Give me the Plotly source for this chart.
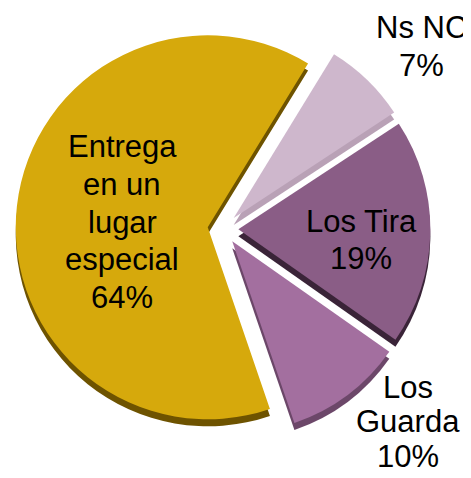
import plotly.graph_objects as go

# ---- data ----
labels = ["Ns NC", "Los Tira", "Los Guarda", "Entrega en un lugar especial"]
values = [7, 19, 10, 64]
text_lines = [["Ns NC", "7%"], ["Los Tira", "19%"], ["Los", "Guarda", "10%"],
              ["Entrega", "en un", "lugar", "especial", "64%"]]

colors = ["#CEB7CC", "#8A5D86", "#A36F9F", "#D6A90C"]
side_colors = ["#B9A1B6", "#3A2438", "#6C4769", "#6E5300"]

# the page body has an 8px margin, so the figure is drawn offset by 8px
OFF = 8
W, H = 471 - OFF, 478 - OFF
cx, cy, R, pull = 223 - OFF, 229 - OFF, 192, 0.08
half = R * (1 + pull)
shadow_dy = 7


def dom(dy=0):
    return dict(x=[(cx - half) / W, (cx + half) / W],
                y=[1 - (cy + half + dy) / H, 1 - (cy - half + dy) / H])


fig = go.Figure()
common = dict(labels=labels, values=values, sort=False, direction="clockwise",
              rotation=31.5, pull=[pull] * 4, textinfo="none", hoverinfo="skip",
              showlegend=False)
fig.add_trace(go.Pie(domain=dom(shadow_dy), marker=dict(colors=side_colors, line=dict(width=0)), **common))
fig.add_trace(go.Pie(domain=dom(0), marker=dict(colors=colors, line=dict(width=0)), **common))

# label blocks: (center x px, first line center y px, line gap) in page pixels
label_pos = [(421, 28, 37.5), (361, 221, 37.5), (408, 387, 34.5), (122, 147, 37.5)]
annotations = []
for lines, (x, y0, gap) in zip(text_lines, label_pos):
    for i, ln in enumerate(lines):
        annotations.append(dict(
            x=(x - OFF) / W, y=1 - (y0 - OFF + i * gap) / H, xref="paper", yref="paper",
            text=ln, showarrow=False, xanchor="center", yanchor="middle",
            font=dict(family="Liberation Sans, Arial, sans-serif", size=31, color="black")))

fig.update_layout(width=W, height=H, margin=dict(l=0, r=0, t=0, b=0),
                  paper_bgcolor="white", plot_bgcolor="white",
                  annotations=annotations)
fig.write_html("out.html")
